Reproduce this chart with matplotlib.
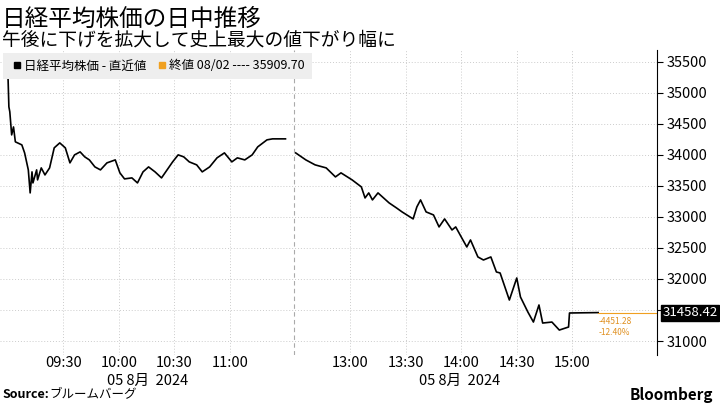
import matplotlib
matplotlib.use("Agg")
import matplotlib.pyplot as plt
from matplotlib.lines import Line2D

plt.rcParams["font.family"] = ["Noto Sans CJK JP"]

# minutes since 09:00 (morning) and values
am_min = [0, 0.5, 1, 2, 3, 4, 7.5, 9, 11, 12, 13, 13.5, 15.5, 16, 18, 20, 22.5, 25, 28, 31,
          33.5, 36, 39, 41.5, 44, 47, 50, 53.5, 58, 60.5, 63, 67, 70, 73, 76, 79.5, 83, 86,
          89, 92, 95, 98, 102, 105, 109, 113, 117, 121, 124, 128, 132, 135, 140, 143, 150]
am_val = [35290, 34774, 34694, 34322, 34450, 34210, 34161, 34032, 33758, 33387, 33726, 33548,
          33758, 33597, 33790, 33677, 33790, 34113, 34193, 34113, 33871, 34000, 34048, 33968,
          33919, 33806, 33758, 33871, 33919, 33710, 33613, 33629, 33548, 33726, 33806, 33726,
          33629, 33758, 33887, 34000, 33968, 33887, 33839, 33726, 33806, 33952, 34032, 33887,
          33952, 33919, 34000, 34129, 34242, 34258, 34258]
# minutes since 12:30 (afternoon)
pm_min = [0.5, 6, 11, 17, 22, 25, 31, 36, 38, 40, 42, 45, 51, 55, 58, 64, 66, 68, 71, 75, 78,
          81, 85, 87, 90, 93, 95, 99, 102, 106, 109, 111, 116, 120, 122, 126, 129, 132, 134,
          139, 143, 148, 148.5, 164]
pm_val = [34032, 33919, 33839, 33790, 33645, 33710, 33597, 33484, 33306, 33387, 33274, 33387,
          33226, 33145, 33081, 32968, 33161, 33274, 33081, 33032, 32839, 32968, 32790, 32839,
          32677, 32516, 32629, 32355, 32306, 32355, 32113, 32097, 31661, 32016, 31710, 31468,
          31306, 31581, 31290, 31306, 31177, 31226, 31452, 31458.42]

yticks = [31000, 31500, 32000, 32500, 33000, 33500, 34000, 34500, 35000, 35500]
am_ticks = [30, 60, 90, 120]
am_labels = ["09:30", "10:00", "10:30", "11:00"]
pm_ticks = [30, 60, 90, 120, 150]
pm_labels = ["13:00", "13:30", "14:00", "14:30", "15:00"]
last = 31458.42
change = "-4451.28"
pct = "-12.40%"

gap = 155  # afternoon offset on the index axis
fig = plt.figure(figsize=(7.2, 4.05), dpi=100)
ax = fig.add_axes([0, 1 - 355 / 405, 657 / 720, 305 / 405])
ax.plot(am_min, am_val, color="black", lw=1.2)
ax.plot([gap + m for m in pm_min], pm_val, color="black", lw=1.2)
ax.set_xlim(-4.3, 350.8)
ax.set_ylim(30775, 35690)

ax.yaxis.tick_right()
ax.set_yticks(yticks)
# the 31500 label sits under the last-value box
ax.set_yticklabels(["" if v == 31500 else str(v) for v in yticks], fontsize=10.5)
xt = am_ticks + [gap + m for m in pm_ticks]
ax.set_xticks(xt)
ax.set_xticklabels(am_labels + pm_labels, fontsize=10.5)
ax.tick_params(axis="x", length=0, pad=1)
ax.tick_params(axis="y", length=4, pad=3)
ax.grid(True, color="#cccccc", ls=(0, (1, 2)), lw=0.7)
for s in ["top", "left", "bottom"]:
    ax.spines[s].set_visible(False)
ax.spines["right"].set_color("black")
ax.axvline(gap - 0.5, color="#aaaaaa", ls=(0, (4, 3)), lw=0.8)

# last value marker
ax.plot([gap + pm_min[-1], 350.8], [last, last], color="#f0a020", lw=0.8)
ax.text(gap + pm_min[-1] + 0.5, last - 70, change, color="#e09020", fontsize=6, va="top")
ax.text(gap + pm_min[-1] + 0.5, last - 250, pct, color="#e09020", fontsize=6, va="top")
ax.annotate(f"{last:.2f}", xy=(1, last), xycoords=("axes fraction", "data"),
            xytext=(4, 0), textcoords="offset points", va="center", ha="left",
            color="white", fontsize=9.5,
            bbox=dict(boxstyle="square,pad=0.12", fc="black", ec="black"))

# legend strip
leg = ax.legend(handles=[Line2D([], [], marker="s", color="black", ls="none", ms=5),
                         Line2D([], [], marker="s", color="#f0a020", ls="none", ms=5)],
                labels=["日経平均株価 - 直近値", "終値 08/02 ---- 35909.70"],
                loc="upper left", ncol=2, fontsize=9, frameon=True, borderpad=0.25,
                handletextpad=0.0, columnspacing=0.6, handlelength=1.2,
                bbox_to_anchor=(0, 1.0))
leg.get_frame().set_facecolor("#eeeeee")
leg.get_frame().set_edgecolor("none")
leg.get_frame().set_boxstyle("square")
leg.get_frame().set_alpha(1)

fig.text(0.003, 0.953, "日経平均株価の日中推移", fontsize=17, ha="left", va="center")
fig.text(0.003, 0.9, "午後に下げを拡大して史上最大の値下がり幅に", fontsize=13.5, ha="left", va="center")
fig.text(148 / 720, 1 - 381 / 405, "05 8月  2024", fontsize=10.5, ha="center", va="center")
fig.text(460 / 720, 1 - 381 / 405, "05 8月  2024", fontsize=10.5, ha="center", va="center")
fig.text(0.004, 0.025, "Source:", fontsize=9, fontweight="bold", ha="left", va="center")
fig.text(0.068, 0.025, "ブルームバーグ", fontsize=9, ha="left", va="center")
fig.text(0.99, 0.025, "Bloomberg", fontsize=11, fontweight="bold", ha="right", va="center")

fig.savefig("out.png", dpi=100)
